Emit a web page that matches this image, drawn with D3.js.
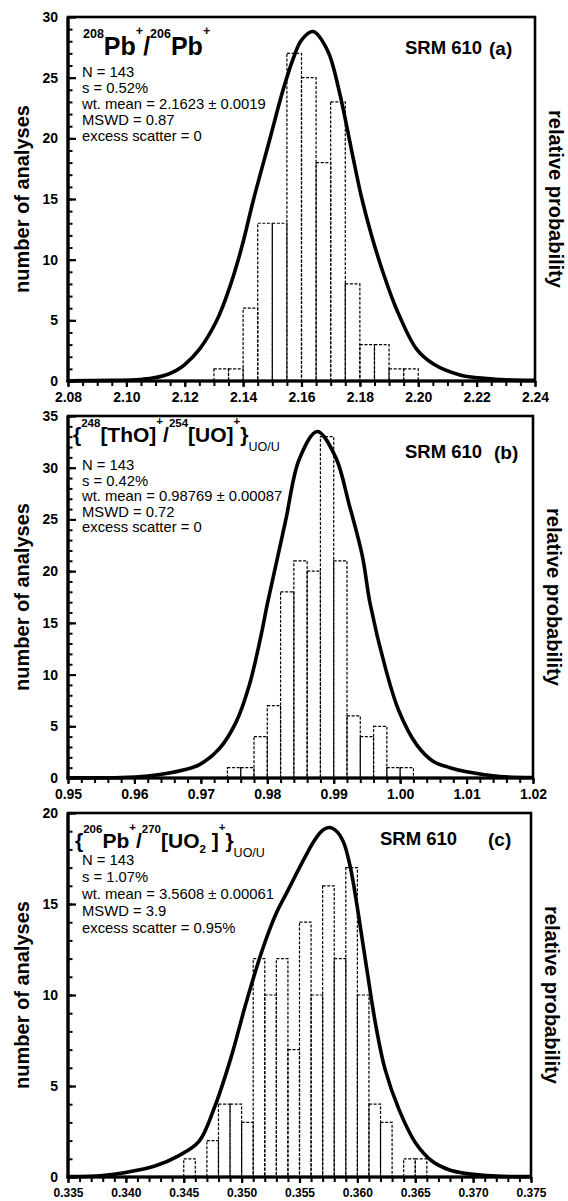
<!DOCTYPE html>
<html>
<head>
<meta charset="utf-8">
<script src="https://cdn.jsdelivr.net/npm/d3@7"></script>
<style>
  body { margin: 0; background: #fff; }
  svg text { font-family: "Liberation Sans", Arial, sans-serif; fill: #000; }
</style>
</head>
<body>
<div id="chart"></div>
<script>
// ---- panel (a) 208Pb/206Pb ----
const binWidthA = 0.005;
const binStartA = [2.130, 2.135, 2.140, 2.145, 2.150, 2.155, 2.160, 2.165, 2.170, 2.175, 2.180, 2.185, 2.190, 2.195];
const countA = [1, 1, 6, 13, 13, 27, 25, 18, 23, 8, 3, 3, 1, 1];
const curveXA = [2.080, 2.095, 2.103, 2.108, 2.113, 2.117, 2.120, 2.125, 2.131, 2.1355, 2.1395, 2.1435, 2.149, 2.1537, 2.1572, 2.160, 2.164, 2.169, 2.173, 2.177, 2.1806, 2.184, 2.188, 2.1926, 2.1995, 2.2052, 2.2143, 2.2234, 2.230, 2.240];
const curveYA = [0.02, 0.05, 0.1, 0.2, 0.45, 0.85, 1.35, 2.6, 5.0, 7.8, 11.0, 14.9, 19.8, 24.0, 26.6, 28.1, 28.8, 27.2, 23.8, 19.2, 15.1, 12.0, 8.9, 5.9, 2.6, 1.4, 0.5, 0.2, 0.1, 0.05];
const xTicksA = [2.08, 2.10, 2.12, 2.14, 2.16, 2.18, 2.20, 2.22, 2.24];
const yTicksA = [0, 5, 10, 15, 20, 25, 30];
const statsA = ["N = 143", "s = 0.52%", "wt. mean = 2.1623 ± 0.0019", "MSWD = 0.87", "excess scatter = 0"];

// ---- panel (b) ThO/UO ----
const binWidthB = 0.002;
const binStartB = [0.974, 0.976, 0.978, 0.980, 0.982, 0.984, 0.986, 0.988, 0.990, 0.992, 0.994, 0.996, 0.998, 1.000];
const countB = [1, 1, 4, 7, 18, 21, 20, 33, 21, 6, 4, 5, 1, 1];
const curveXB = [0.950, 0.958, 0.962, 0.965, 0.9675, 0.9698, 0.9728, 0.9753, 0.9773, 0.9790, 0.9800, 0.9813, 0.9828, 0.9848, 0.98752, 0.9903, 0.9923, 0.9943, 0.9955, 0.9978, 0.9998, 1.0025, 1.005, 1.0075, 1.010, 1.015, 1.020];
const curveYB = [0.02, 0.05, 0.2, 0.45, 0.8, 1.3, 2.85, 5.4, 9.0, 13.6, 16.8, 20.6, 25.0, 30.8, 33.5, 31.0, 26.5, 21.5, 16.8, 10.6, 6.5, 3.2, 1.6, 1.0, 0.6, 0.15, 0.05];
const xTicksB = [0.95, 0.96, 0.97, 0.98, 0.99, 1.00, 1.01, 1.02];
const yTicksB = [0, 5, 10, 15, 20, 25, 30, 35];
const statsB = ["N = 143", "s = 0.42%", "wt. mean = 0.98769 ± 0.00087", "MSWD = 0.72", "excess scatter = 0"];

// ---- panel (c) Pb/UO2 ----
const binWidthC = 0.001;
const binStartC = [0.345, 0.347, 0.348, 0.349, 0.350, 0.351, 0.352, 0.353, 0.354, 0.355, 0.356, 0.357, 0.358, 0.359, 0.360, 0.361, 0.362, 0.364, 0.365];
const countC = [1, 2, 4, 4, 3, 12, 10, 12, 7, 14, 10, 16, 12, 17, 10, 4, 3, 1, 1];
const curveXC = [0.335, 0.338, 0.340, 0.3425, 0.3445, 0.3463, 0.3477, 0.3491, 0.3504, 0.3518, 0.3530, 0.3538, 0.3546, 0.3555, 0.3563, 0.3570, 0.3576, 0.3582, 0.3588, 0.3594, 0.3600, 0.3607, 0.3616, 0.3624, 0.3636, 0.3650, 0.3665, 0.3679, 0.3693, 0.372, 0.375];
const curveYC = [0.02, 0.08, 0.25, 0.6, 1.15, 1.94, 3.9, 6.6, 9.6, 12.5, 14.5, 15.5, 16.5, 17.6, 18.5, 19.05, 19.2, 19.0, 18.4, 17.0, 14.8, 11.9, 8.3, 5.9, 3.7, 1.9, 0.85, 0.4, 0.2, 0.05, 0.02];
const xTicksC = [0.335, 0.340, 0.345, 0.350, 0.355, 0.360, 0.365, 0.370, 0.375];
const yTicksC = [0, 5, 10, 15, 20];
const statsC = ["N = 143", "s = 1.07%", "wt. mean = 3.5608 ± 0.00061", "MSWD = 3.9", "excess scatter = 0.95%"];

// titles: [text, font size, bold, rise above baseline]
const titleA = [["208", 12.5, true, 17], ["Pb", 25, true, 0], ["+", 12.5, true, 20], ["/", 25, true, 0],
                ["206", 12.5, true, 17], ["Pb", 25, true, 0], ["+", 12.5, true, 20]];
const titleB = [["{", 21, true, 0], ["248", 11.5, true, 15], ["[ThO]", 21, true, 0], ["+", 11.5, true, 17],
                ["/", 21, true, 0], ["254", 11.5, true, 15], ["[UO]", 21, true, 0], ["+", 11.5, true, 17],
                ["}", 21, true, 0], ["UO/U", 12.5, false, -9]];
const titleC = [["{", 21, true, 0], ["206", 11.5, true, 15], ["Pb", 21, true, 0], ["+", 11.5, true, 17],
                ["/", 21, true, 0], ["270", 11.5, true, 15], ["[UO", 21, true, 0], ["2", 11.5, true, -5],
                [" ]", 21, true, 0], ["+", 11.5, true, 17], ["}", 21, true, 0], ["UO/U", 12.5, false, -9]];

const svg = d3.select("#chart").append("svg")
  .attr("width", 568)
  .attr("height", 1201);

const panels = [
  { x0: 68, x1: 535, y0: 17, y1: 381, xDom: [2.08, 2.24], yMax: 30, minorX: 32, minorY: 30,
    fmt: ".2f", tickFont: 14, bins: binStartA, counts: countA, bw: binWidthA, cx: curveXA, cy: curveYA,
    xTicks: xTicksA, yTicks: yTicksA, stats: statsA, statsY: 77, statsDy: 16,
    title: titleA, titleX: 83, titleY: 55, srmX: 405, letterX: 489, labY: 54, letter: "(a)" },
  { x0: 68, x1: 533, y0: 416, y1: 778, xDom: [0.95, 1.02], yMax: 35, minorX: 35, minorY: 35,
    fmt: ".2f", tickFont: 14, bins: binStartB, counts: countB, bw: binWidthB, cx: curveXB, cy: curveYB,
    xTicks: xTicksB, yTicks: yTicksB, stats: statsB, statsY: 470, statsDy: 15.5,
    title: titleB, titleX: 73, titleY: 442, srmX: 405, letterX: 494, labY: 458, letter: "(b)" },
  { x0: 68, x1: 531, y0: 813, y1: 1177, xDom: [0.335, 0.375], yMax: 20, minorX: 40, minorY: 20,
    fmt: ".3f", tickFont: 12, bins: binStartC, counts: countC, bw: binWidthC, cx: curveXC, cy: curveYC,
    xTicks: xTicksC, yTicks: yTicksC, stats: statsC, statsY: 865, statsDy: 17,
    title: titleC, titleX: 75, titleY: 848, srmX: 380, letterX: 488, labY: 845, letter: "(c)" }
];

panels.forEach((p) => {
  const x = d3.scaleLinear().domain(p.xDom).range([p.x0, p.x1]);
  const y = d3.scaleLinear().domain([0, p.yMax]).range([p.y1, p.y0]);
  const g = svg.append("g");

  // histogram bars, dashed outline
  g.selectAll("rect.bar")
    .data(p.bins.map((b, i) => ({ b: b, n: p.counts[i] })))
    .enter()
    .append("rect")
    .attr("class", "bar")
    .attr("x", (d) => x(d.b))
    .attr("y", (d) => y(d.n))
    .attr("width", (d) => x(d.b + p.bw) - x(d.b))
    .attr("height", (d) => y(0) - y(d.n))
    .attr("fill", "none")
    .attr("stroke", "#000")
    .attr("stroke-width", 1.2)
    .attr("stroke-dasharray", "3,1.6");

  // probability curve
  const line = d3.line()
    .x((d) => x(d[0]))
    .y((d) => Math.min(y(d[1]), p.y1))
    .curve(d3.curveCatmullRom.alpha(0.5));
  g.append("path")
    .datum(p.cx.map((v, i) => [v, p.cy[i]]))
    .attr("d", line)
    .attr("fill", "none")
    .attr("stroke", "#000")
    .attr("stroke-width", 3.6)
    .attr("stroke-linejoin", "round");

  // frame
  g.append("rect")
    .attr("x", p.x0).attr("y", p.y0)
    .attr("width", p.x1 - p.x0).attr("height", p.y1 - p.y0)
    .attr("fill", "none").attr("stroke", "#000").attr("stroke-width", 2.6);

  // x axis: minor then major
  g.append("g")
    .attr("transform", `translate(0,${p.y1})`)
    .call(d3.axisBottom(x).ticks(p.minorX).tickSize(5).tickFormat(""))
    .call((s) => s.select(".domain").remove())
    .selectAll("line").attr("stroke-width", 2);
  const xa = g.append("g")
    .attr("transform", `translate(0,${p.y1})`)
    .call(d3.axisBottom(x).tickValues(p.xTicks).tickSize(6).tickPadding(5).tickFormat(d3.format(p.fmt)));
  xa.select(".domain").remove();
  xa.selectAll("line").attr("stroke-width", 2.2);
  xa.selectAll("text")
    .style("font-size", p.tickFont + "px")
    .style("font-weight", "bold")
    .style("font-family", '"Liberation Sans", Arial, sans-serif');

  // y axis: ticks point inward
  g.append("g")
    .attr("transform", `translate(${p.x0},0)`)
    .call(d3.axisLeft(y).ticks(p.minorY).tickSize(-4.5).tickFormat(""))
    .call((s) => s.select(".domain").remove())
    .selectAll("line").attr("stroke-width", 2);
  const ya = g.append("g")
    .attr("transform", `translate(${p.x0},0)`)
    .call(d3.axisLeft(y).tickValues(p.yTicks).tickSize(-8).tickPadding(10));
  ya.select(".domain").remove();
  ya.selectAll("line").attr("stroke-width", 2.2);
  ya.selectAll("text")
    .style("font-size", "14px")
    .style("font-weight", "bold")
    .style("font-family", '"Liberation Sans", Arial, sans-serif');

  // thick left and bottom axis lines
  g.append("line").attr("x1", p.x0).attr("x2", p.x0).attr("y1", p.y0).attr("y2", p.y1 + 1.5)
    .attr("stroke", "#000").attr("stroke-width", 3.2);
  g.append("line").attr("x1", p.x0 - 1.5).attr("x2", p.x1).attr("y1", p.y1).attr("y2", p.y1)
    .attr("stroke", "#000").attr("stroke-width", 3.2);

  // axis titles
  const ym = (p.y0 + p.y1) / 2;
  g.append("text")
    .attr("transform", `translate(29,${ym}) rotate(-90)`)
    .attr("text-anchor", "middle")
    .style("font-size", "20px").style("font-weight", "bold")
    .text("number of analyses");
  g.append("text")
    .attr("transform", `translate(${p.x1 + 14},${ym}) rotate(90)`)
    .attr("text-anchor", "middle")
    .style("font-size", "20px").style("font-weight", "bold")
    .text("relative probability");

  // ratio title
  const t = g.append("text").attr("x", p.titleX).attr("y", p.titleY);
  let prevRise = 0;
  p.title.forEach((s) => {
    t.append("tspan")
      .attr("dy", prevRise - s[3])
      .style("font-size", s[1] + "px")
      .style("font-weight", s[2] ? "bold" : "normal")
      .text(s[0]);
    prevRise = s[3];
  });

  // statistics
  g.selectAll("text.stat")
    .data(p.stats)
    .enter()
    .append("text")
    .attr("class", "stat")
    .attr("x", 82)
    .attr("y", (d, i) => p.statsY + i * p.statsDy)
    .style("font-size", "14.8px")
    .text((d) => d);

  // sample + panel letter
  g.append("text").attr("x", p.srmX).attr("y", p.labY)
    .style("font-size", "18.5px").style("font-weight", "bold").text("SRM 610");
  g.append("text").attr("x", p.letterX).attr("y", p.labY + 1)
    .style("font-size", "19px").style("font-weight", "bold").text(p.letter);
});
</script>
</body>
</html>
